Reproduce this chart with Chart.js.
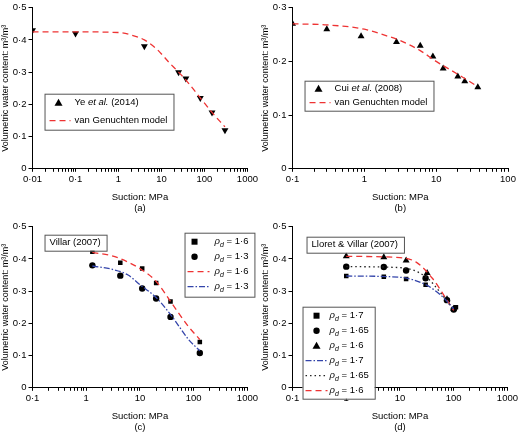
<!DOCTYPE html>
<html><head><meta charset="utf-8">
<script src="https://cdn.jsdelivr.net/npm/chart.js@4"></script>
<style>body{margin:0;background:#fff;width:520px;height:437px;position:relative;overflow:hidden}
.p{position:absolute;width:260px;height:218px}</style></head><body>
<div class="p" style="left:0;top:0"><canvas id="ca"></canvas></div>
<div class="p" style="left:260px;top:0"><canvas id="cb"></canvas></div>
<div class="p" style="left:0;top:219px"><canvas id="cc"></canvas></div>
<div class="p" style="left:260px;top:219px"><canvas id="cd"></canvas></div>
<script>
// ---- data ----
const aDataX=[0.01,0.1,4,25,37,80,150,300];
const aDataY=[0.43,0.42,0.38,0.30,0.28,0.22,0.175,0.12];
const aFitX=[0.01,0.1,1,2,4,8,15,25,40,80,150,300];
const aFitY=[0.425,0.425,0.423,0.415,0.40,0.37,0.33,0.30,0.27,0.22,0.175,0.13];
const bDataX=[0.1,0.3,0.9,2.8,6,9,12.5,20,25,38];
const bDataY=[0.27,0.26,0.247,0.236,0.229,0.209,0.187,0.172,0.163,0.152];
const bFitX=[0.1,0.3,1,2,3,6,10,20,38];
const bFitY=[0.27,0.268,0.26,0.248,0.24,0.22,0.20,0.176,0.153];
const cX=[1.3,4.3,11,20,37,130];
const c16=[0.422,0.388,0.37,0.325,0.268,0.142];
const c13=[0.38,0.348,0.308,0.277,0.22,0.108];
const cFitX=[1.3,3,6,10,20,40,80,130];
const cFit16=[0.42,0.41,0.39,0.37,0.33,0.26,0.19,0.15];
const cFit13=[0.378,0.368,0.35,0.32,0.28,0.22,0.15,0.115];
const d17X=[1,5,13,30,75,110], d17=[0.347,0.345,0.338,0.32,0.272,0.25];
const d165X=[1,5,13,30,75,100], d165=[0.376,0.375,0.364,0.34,0.272,0.243];
const d16X=[1,5,13,32,75,100], d16=[0.408,0.405,0.395,0.356,0.275,0.245];
const dFit17X=[1,10,30,60,100], dFit17=[0.347,0.343,0.32,0.285,0.245];
const dFit165X=[1,10,30,60,100], dFit165=[0.376,0.373,0.345,0.29,0.24];
const dFit16X=[1,10,20,40,70,100], dFit16=[0.408,0.404,0.39,0.34,0.28,0.24];
const yTicksA=[0,0.1,0.2,0.3,0.4,0.5], yTicksB=[0,0.1,0.2,0.3];

const F='"Liberation Sans", Arial, sans-serif';
const pts=(xs,ys)=>xs.map((x,i)=>({x,y:ys[i]}));
const fmt=v=>String(v).replace('.','·');
function pointDs(xs,ys,style,rot){return{type:'scatter',data:pts(xs,ys),pointStyle:style,rotation:rot||0,pointRadius:style==='triangle'?4:3.2,backgroundColor:'#000',borderColor:'#000',borderWidth:0,showLine:false};}
function lineDs(xs,ys,color,dash){return{type:'line',data:pts(xs,ys),borderColor:color,borderWidth:1.3,borderDash:dash,pointRadius:0,fill:false,tension:0.4,cubicInterpolationMode:'monotone'};}

function drawRich(ctx,x,y,segs,measure){
  let w=0;
  for(const s of segs){
    ctx.font=(s.i?'italic ':'')+(s.sub?'7px ':'9.5px ')+F;
    if(!measure)ctx.fillText(s.t,x+w,y+(s.sub?3:0));w+=ctx.measureText(s.t).width;
  }
  return w;
}
const rho=v=>[{t:'ρ',i:1},{t:'d',i:1,sub:1},{t:' = '+v}];

const boxPlugin={id:'boxes',afterDatasetsDraw(ch){
  const o=ch.options.plugins.boxes;if(!o)return;const ctx=ch.ctx,ca=ch.chartArea;
  ctx.save();ctx.textBaseline='middle';ctx.fillStyle='#000';
  for(const b of o){
    const x=ca.left+b.x,y=ca.top+b.y;
    const w=b.tx+Math.max(...b.items.map(it=>drawRich(ctx,0,0,it.segs,true)))+6;
    ctx.fillStyle='#fff';ctx.fillRect(x,y,w,b.h);
    ctx.strokeStyle='#555';ctx.lineWidth=1;ctx.setLineDash([]);ctx.strokeRect(x+.5,y+.5,w,b.h);
    ctx.fillStyle='#000';
    b.items.forEach((it,k)=>{
      const cy=y+b.pad+k*b.step;
      if(it.pt){ctx.beginPath();const px=x+b.sx;
        if(it.pt==='rect')ctx.fillRect(px-3,cy-3,6,6);
        else if(it.pt==='circle'){ctx.arc(px,cy,3.2,0,7);ctx.fill();}
        else{ctx.moveTo(px,cy-4);ctx.lineTo(px+4,cy+3);ctx.lineTo(px-4,cy+3);ctx.closePath();ctx.fill();}
      }else if(it.ln){ctx.beginPath();ctx.strokeStyle=it.ln;ctx.lineWidth=1.3;ctx.setLineDash(it.dash||[]);
        ctx.moveTo(x+b.lx0,cy);ctx.lineTo(x+b.lx1,cy);ctx.stroke();ctx.setLineDash([]);}
      drawRich(ctx,x+b.tx,cy,it.segs);
    });
  }
  ctx.restore();}};

function logTicks(min,max){const t=[];for(let e=Math.round(Math.log10(min));e<Math.round(Math.log10(max));e++){for(let m=1;m<10;m++)t.push(m*Math.pow(10,e));}t.push(max);return t;}

function make(id,datasets,xmin,xmax,ymax,yt,boxes,label,xunit){
  new Chart(document.getElementById(id),{data:{datasets},plugins:[boxPlugin],
  options:{responsive:true,maintainAspectRatio:false,animation:false,
   layout:{padding:{top:5,right:12,left:0,bottom:0}},
   plugins:{legend:{display:false},tooltip:{enabled:false},boxes},
   scales:{
    x:{type:'logarithmic',min:xmin,max:xmax,
      afterBuildTicks:s=>{s.ticks=logTicks(xmin,xmax).map(v=>({value:v}));},
      ticks:{autoSkip:false,maxRotation:0,color:'#000',font:{family:F,size:9.5},padding:2,
        callback:v=>{const l=Math.log10(v);return Math.abs(l-Math.round(l))<1e-6?fmt(+v.toPrecision(3)):'';}},
      grid:{drawOnChartArea:false,tickLength:3,color:'#000'},border:{color:'#000'},
      title:{display:true,text:['Suction: '+xunit,label],color:'#000',font:{family:F,size:9.5},padding:{top:4}}},
    y:{min:0,max:ymax,afterBuildTicks:s=>{s.ticks=yt.map(v=>({value:v}));},
      ticks:{color:'#000',font:{family:F,size:9.5},padding:2,callback:v=>fmt(+v.toFixed(1))},
      grid:{drawOnChartArea:false,tickLength:4,color:'#000'},border:{color:'#000'},
      title:{display:true,text:'Volumetric water content: m³/m³',color:'#000',font:{family:F,size:9},padding:0}}
   }}});
}
const ye=[{t:'Ye '},{t:'et al.',i:1},{t:' (2014)'}], cui=[{t:'Cui '},{t:'et al.',i:1},{t:' (2008)'}];
make('ca',[lineDs(aFitX,aFitY,'#e33',[6,4]),pointDs(aDataX,aDataY,'triangle',180)],0.01,1000,0.5,yTicksA,
 [{x:12,y:86,w:0,h:36,pad:9,step:18,sx:14,lx0:5,lx1:26,tx:30,items:[{pt:'tri',segs:ye},{ln:'#e33',dash:[6,4],segs:[{t:'van Genuchten model'}]}]}],'(a)','MPa');
make('cb',[lineDs(bFitX,bFitY,'#e33',[6,4]),pointDs(bDataX,bDataY,'triangle')],0.1,100,0.3,yTicksB,
 [{x:12,y:73,w:0,h:30,pad:8,step:14,sx:14,lx0:5,lx1:26,tx:30,items:[{pt:'tri',segs:cui},{ln:'#e33',dash:[6,4],segs:[{t:'van Genuchten model'}]}]}],'(b)','MPa');
make('cc',[lineDs(cFitX,cFit16,'#e33',[6,4]),lineDs(cFitX,cFit13,'#34a',[6,2,1.5,2]),pointDs(cX,c16,'rect'),pointDs(cX,c13,'circle')],0.1,1000,0.5,yTicksA,
 [{x:12,y:8,w:0,h:16,pad:8,step:0,tx:5,items:[{segs:[{t:'Villar (2007)'}]}]},
  {x:152,y:6,w:0,h:64,pad:9,step:15,sx:10,lx0:3,lx1:25,tx:30,items:[{pt:'rect',segs:rho('1·6')},{pt:'circle',segs:rho('1·3')},{ln:'#e33',dash:[6,4],segs:rho('1·6')},{ln:'#34a',dash:[6,2,1.5,2],segs:rho('1·3')}]}],'(c)','MPa');
make('cd',[lineDs(dFit17X,dFit17,'#34a',[6,2,1.5,2]),lineDs(dFit165X,dFit165,'#222',[1.5,3]),lineDs(dFit16X,dFit16,'#e33',[6,4]),
 pointDs(d17X,d17,'rect'),pointDs(d165X,d165,'circle'),pointDs(d16X,d16,'triangle')],0.1,1000,0.5,yTicksA,
 [{x:14,y:10,w:0,h:16,pad:8,step:0,tx:5,items:[{segs:[{t:'Lloret & Villar (2007)'}]}]},
  {x:10,y:80,w:0,h:92,pad:9,step:15,sx:14,lx0:3,lx1:25,tx:27,items:[{pt:'rect',segs:rho('1·7')},{pt:'circle',segs:rho('1·65')},{pt:'tri',segs:rho('1·6')},
   {ln:'#34a',dash:[6,2,1.5,2],segs:rho('1·7')},{ln:'#222',dash:[1.5,3],segs:rho('1·65')},{ln:'#e33',dash:[6,4],segs:rho('1·6')}]}],'(d)','MPa');
</script></body></html>
